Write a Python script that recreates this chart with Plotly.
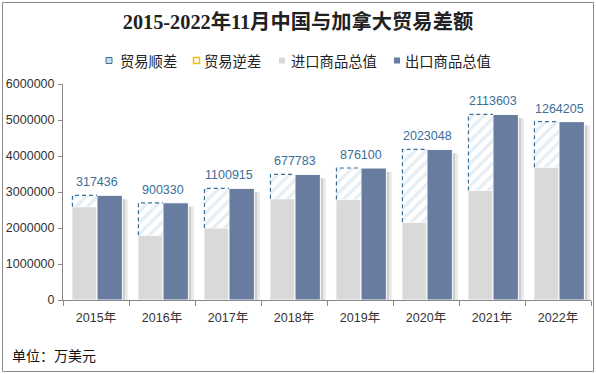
import plotly.graph_objects as go

years = ["2015年", "2016年", "2017年", "2018年", "2019年", "2020年", "2021年", "2022年"]
imports = [2590000, 1800000, 2000000, 2810000, 2790000, 2160000, 3040000, 3690000]
exports = [2907436, 2700330, 3100915, 3487783, 3666100, 4183048, 5153603, 4954205]
surplus = [317436, 900330, 1100915, 677783, 876100, 2023048, 2113603, 1264205]
legend_names = ["贸易顺差", "贸易逆差", "进口商品总值", "出口商品总值"]

xs = list(range(len(years)))
GRAY = "#d9d9d9"
BLUE = "#687ca0"
DASH = "#3a7098"
LABEL = "#3a6f99"
HATCH = "#cddde8"
YELLOW = "#f5c000"
FONT = "Arial, Liberation Sans, Noto Sans CJK SC"

# plot area in pixels (for placing decorations in paper coordinates)
PL, PR, PT, PB = 63, 591, 84, 300
def px(x):
    return (x - PL) / (PR - PL)
def py(y):
    return (PB - y) / (PB - PT)

L_OFF, L_W = -0.365, 0.38
R_OFF, R_W = 0.015, 0.385

fig = go.Figure()

# soft drop shadow to the right of the export bars
SH_DROP = 110000
for k, col in enumerate(["#b0b0b0", "#cdcdcd", "#e8e8e8"]):
    fig.add_trace(go.Bar(x=xs, y=[e - SH_DROP for e in exports], offset=R_OFF + R_W + 0.028 * k - 0.005,
                         width=0.03, marker=dict(color=col, line=dict(width=0)),
                         showlegend=False, hoverinfo="skip"))

# imports
fig.add_trace(go.Bar(name="进口商品总值", x=xs, y=imports, offset=L_OFF, width=L_W,
                     marker=dict(color=GRAY, line=dict(color="white", width=1))))
# exports
fig.add_trace(go.Bar(name="出口商品总值", x=xs, y=exports, offset=R_OFF, width=R_W,
                     marker=dict(color=BLUE, line=dict(color="white", width=1))))
# surplus hatched (stacked on imports)
fig.add_trace(go.Bar(name="贸易顺差", x=xs, y=surplus, base=imports, offset=L_OFF, width=L_W,
                     marker=dict(color="white", line=dict(width=0),
                                 pattern=dict(shape="/", fgcolor=HATCH, bgcolor="white",
                                              size=8, solidity=0.4, fillmode="overlay"))))

# dashed outline of the surplus bars (left and top sides)
lx, ly = [], []
for i, (imp, s) in enumerate(zip(imports, surplus)):
    top = imp + s
    xl = i + L_OFF + 0.008
    xr = i + L_OFF + L_W
    lx += [xl, xl, xr, None]
    ly += [imp, top, top, None]
fig.add_trace(go.Scatter(x=lx, y=ly, mode="lines", showlegend=False, hoverinfo="skip",
                         line=dict(color=DASH, width=1.2, dash="4px,3px")))

# data labels
for i, (e, s) in enumerate(zip(exports, surplus)):
    fig.add_annotation(x=i + 0.02, y=e, text=str(s), showarrow=False, yanchor="bottom",
                       yshift=4, font=dict(family=FONT, size=12.5, color=LABEL))

# legend (drawn as text + small swatches to match the compact original layout)
icon_x = [109, 196.5, 282, 397]
text_x = [117.5, 202, 288.5, 403]
LEG_Y = 60.5
icon_styles = [
    dict(fillcolor=HATCH, line=dict(color=DASH, width=1)),
    dict(fillcolor="white", line=dict(color=YELLOW, width=1.5)),
    dict(fillcolor=GRAY, line=dict(width=0)),
    dict(fillcolor=BLUE, line=dict(width=0)),
]
for name, ix, tx, st in zip(legend_names, icon_x, text_x, icon_styles):
    fig.add_shape(type="rect", xref="paper", yref="paper",
                  x0=px(ix - 3), x1=px(ix + 3), y0=py(LEG_Y + 3), y1=py(LEG_Y - 3), **st)
    fig.add_annotation(xref="paper", yref="paper", x=px(tx), y=py(LEG_Y), xanchor="left",
                       yanchor="middle", text=name, showarrow=False,
                       font=dict(family="Noto Sans CJK SC", size=14.3, color="#222"))

fig.add_annotation(xref="paper", yref="paper", x=px(10), y=py(355),
                   xanchor="left", yanchor="middle", text="单位：万美元", showarrow=False,
                   font=dict(family="Noto Sans CJK SC", size=14, color="#111"))

fig.add_shape(type="rect", xref="paper", yref="paper",
              x0=px(2.5), x1=px(593.5), y0=py(371.5), y1=py(2.5),
              line=dict(color="#8a8a8a", width=1), fillcolor="rgba(0,0,0,0)")

fig.update_layout(
    width=596, height=374,
    margin=dict(l=PL, r=596 - PR, t=PT, b=374 - PB, autoexpand=False),
    paper_bgcolor="white", plot_bgcolor="white",
    barmode="overlay",
    showlegend=False,
    title=dict(text="<b>2015-2022年11月中国与加拿大贸易差额</b>", x=0.5, xref="container",
               xanchor="center", y=1 - 22 / 374, yanchor="middle", yref="container",
               font=dict(family="Liberation Serif, Noto Sans CJK SC", size=20.3, color="#222")),
    xaxis=dict(range=[-0.5, 7.5], tickvals=xs, ticktext=years, ticks="", showgrid=False,
               zeroline=False, showline=True, linecolor="#888", linewidth=1, automargin=False,
               ticklabelstandoff=6,
               tickfont=dict(family=FONT, size=12.5, color="#333"),
               minor=dict(tickvals=[i - 0.5 for i in range(len(years) + 1)], ticks="outside",
                          ticklen=5, tickcolor="#888", showgrid=False)),
    yaxis=dict(range=[0, 6000000], dtick=1000000, tickformat="d", showgrid=False, zeroline=False,
               showline=True, linecolor="#888", linewidth=1, ticks="outside", ticklen=4,
               automargin=False, ticklabelstandoff=1,
               tickcolor="#888", tickfont=dict(family=FONT, size=12.5, color="#333")),
)

fig.write_html("out.html", config={"displayModeBar": False},
               post_script="document.body.style.margin='0';")
